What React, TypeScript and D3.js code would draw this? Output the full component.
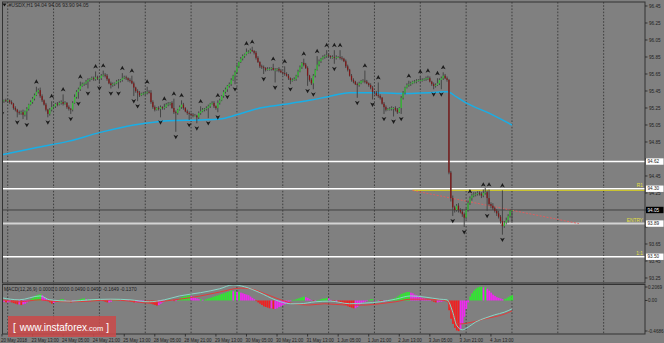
import React from "react";
import * as d3 from "d3";

// ---------- DATA ----------
const firstOpen = 95.32;
const closes = [
  95.33,95.34,95.33,95.34,95.32,95.30,95.25,95.23,95.20,95.19,
  95.20,95.17,95.21,95.24,95.29,95.32,95.36,95.40,95.44,95.46,
  95.39,95.34,95.29,95.23,95.18,95.23,95.26,95.27,95.30,95.29,
  95.31,95.32,95.30,95.31,95.26,95.24,95.23,95.31,95.38,95.44,
  95.47,95.51,95.53,95.54,95.56,95.58,95.59,95.60,95.59,95.61,
  95.60,95.60,95.63,95.64,95.63,95.59,95.54,95.52,95.53,95.54,
  95.56,95.57,95.58,95.60,95.61,95.60,95.58,95.57,95.54,95.49,
  95.45,95.43,95.40,95.42,95.42,95.43,95.44,95.43,95.32,95.26,
  95.23,95.25,95.24,95.26,95.25,95.26,95.29,95.30,95.31,95.25,
  95.20,95.19,95.23,95.26,95.29,95.25,95.21,95.19,95.18,95.17,
  95.16,95.16,95.14,95.19,95.21,95.23,95.24,95.25,95.27,95.30,
  95.31,95.27,95.25,95.31,95.34,95.39,95.44,95.47,95.51,95.53,
  95.58,95.63,95.67,95.74,95.79,95.83,95.86,95.88,95.91,95.91,
  95.93,95.92,95.90,95.84,95.79,95.74,95.73,95.72,95.70,95.71,
  95.71,95.72,95.70,95.70,95.71,95.69,95.67,95.66,95.65,95.63,
  95.60,95.58,95.58,95.59,95.63,95.68,95.73,95.78,95.76,95.72,
  95.63,95.58,95.54,95.63,95.70,95.76,95.80,95.83,95.85,95.86,
  95.87,95.86,95.85,95.85,95.84,95.85,95.85,95.84,95.83,95.80,
  95.74,95.70,95.63,95.58,95.56,95.53,95.52,95.54,95.57,95.57,
  95.56,95.54,95.52,95.49,95.44,95.43,95.40,95.39,95.37,95.30,
  95.26,95.23,95.24,95.24,95.25,95.25,95.23,95.20,95.25,95.37,
  95.43,95.49,95.52,95.53,95.54,95.56,95.56,95.57,95.58,95.58,
  95.58,95.59,95.60,95.60,95.56,95.53,95.51,95.52,95.54,95.58,
  95.60,95.63,95.60,95.58,94.49,94.19,94.08,94.05,94.10,94.05,
  94.03,94.00,93.96,94.05,94.13,94.19,94.22,94.23,94.24,94.25,
  94.24,94.22,94.25,94.26,94.19,94.12,94.10,94.07,94.04,94.01,
  93.97,93.92,93.86,93.90,93.93,93.98,94.04,94.05,
];
const upperWicks = [
  0.02,0.01,0.02,0.02,0.01,0.02,0.01,0.02,0.01,0.02,
  0.02,0.03,0.01,0.02,0.01,0.02,0.02,0.02,0.06,0.02,
  0.03,0.02,0.01,0.02,0.01,0.02,0.07,0.02,0.01,0.02,
  0.02,0.02,0.09,0.02,0.01,0.02,0.01,0.02,0.03,0.02,
  0.02,0.05,0.02,0.01,0.02,0.02,0.01,0.02,0.02,0.07,
  0.02,0.01,0.02,0.05,0.02,0.02,0.01,0.02,0.02,0.01,
  0.02,0.02,0.01,0.06,0.02,0.02,0.01,0.02,0.06,0.02,
  0.01,0.02,0.02,0.01,0.02,0.02,0.06,0.02,0.03,0.02,
  0.02,0.01,0.02,0.02,0.01,0.04,0.02,0.02,0.01,0.02,
  0.11,0.02,0.01,0.02,0.05,0.02,0.01,0.02,0.02,0.01,
  0.02,0.02,0.01,0.02,0.06,0.02,0.01,0.02,0.02,0.01,
  0.02,0.02,0.01,0.03,0.02,0.01,0.02,0.02,0.01,0.02,
  0.02,0.01,0.02,0.02,0.01,0.02,0.02,0.01,0.04,0.02,
  0.02,0.04,0.01,0.02,0.02,0.01,0.02,0.02,0.01,0.02,
  0.02,0.01,0.05,0.02,0.01,0.02,0.02,0.01,0.08,0.02,
  0.02,0.01,0.02,0.02,0.01,0.02,0.02,0.01,0.05,0.02,
  0.02,0.01,0.02,0.02,0.01,0.10,0.02,0.01,0.02,0.02,
  0.06,0.02,0.01,0.02,0.08,0.02,0.01,0.08,0.02,0.01,
  0.02,0.02,0.01,0.02,0.02,0.01,0.02,0.02,0.01,0.02,
  0.12,0.02,0.01,0.02,0.02,0.01,0.02,0.15,0.02,0.01,
  0.02,0.02,0.01,0.02,0.02,0.01,0.02,0.02,0.01,0.02,
  0.02,0.01,0.02,0.04,0.02,0.01,0.02,0.02,0.01,0.04,
  0.02,0.01,0.02,0.03,0.02,0.01,0.02,0.02,0.06,0.02,
  0.02,0.04,0.02,0.02,0.01,0.02,0.03,0.02,0.02,0.03,
  0.02,0.03,0.02,0.02,0.03,0.02,0.02,0.03,0.02,0.02,
  0.02,0.02,0.04,0.05,0.02,0.10,0.02,0.03,0.02,0.02,
  0.03,0.02,0.36,0.02,0.03,0.02,0.02,0.01,
];
const lowerWicks = [
  0.08,0.02,0.01,0.02,0.02,0.01,0.02,0.02,0.06,0.02,
  0.02,0.05,0.02,0.10,0.02,0.01,0.02,0.02,0.01,0.02,
  0.02,0.02,0.01,0.02,0.04,0.02,0.02,0.01,0.02,0.02,
  0.01,0.02,0.02,0.01,0.02,0.02,0.05,0.02,0.01,0.02,
  0.08,0.02,0.01,0.02,0.02,0.08,0.02,0.01,0.02,0.02,
  0.02,0.06,0.02,0.01,0.02,0.02,0.01,0.04,0.02,0.02,
  0.01,0.08,0.02,0.02,0.01,0.02,0.02,0.02,0.01,0.10,
  0.02,0.10,0.02,0.01,0.02,0.02,0.02,0.01,0.02,0.02,
  0.02,0.01,0.02,0.10,0.02,0.02,0.01,0.02,0.02,0.01,
  0.02,0.22,0.02,0.01,0.02,0.02,0.01,0.02,0.07,0.02,
  0.02,0.01,0.07,0.02,0.02,0.01,0.02,0.02,0.12,0.02,
  0.01,0.02,0.02,0.05,0.02,0.01,0.02,0.02,0.03,0.02,
  0.02,0.01,0.10,0.02,0.02,0.01,0.02,0.02,0.01,0.02,
  0.02,0.01,0.02,0.02,0.01,0.02,0.02,0.07,0.02,0.01,
  0.02,0.02,0.01,0.15,0.02,0.02,0.01,0.02,0.02,0.01,
  0.02,0.05,0.02,0.01,0.02,0.02,0.01,0.02,0.02,0.01,
  0.12,0.02,0.02,0.07,0.02,0.01,0.02,0.02,0.01,0.02,
  0.02,0.01,0.02,0.02,0.07,0.02,0.01,0.02,0.02,0.01,
  0.02,0.02,0.01,0.02,0.02,0.01,0.15,0.02,0.01,0.02,
  0.02,0.01,0.02,0.02,0.09,0.02,0.01,0.02,0.02,0.01,
  0.08,0.02,0.01,0.02,0.02,0.10,0.02,0.02,0.01,0.07,
  0.02,0.02,0.01,0.02,0.02,0.01,0.02,0.02,0.01,0.02,
  0.02,0.01,0.02,0.02,0.01,0.02,0.04,0.02,0.01,0.02,
  0.11,0.02,0.01,0.02,0.02,0.04,0.10,0.03,0.02,0.03,
  0.02,0.03,0.11,0.02,0.02,0.02,0.03,0.02,0.02,0.02,
  0.02,0.03,0.02,0.02,0.15,0.02,0.03,0.02,0.02,0.03,
  0.02,0.03,0.10,0.02,0.02,0.03,0.02,0.14,
];
const fractalUpBars = [18,26,32,41,49,53,63,68,76,85,90,94,104,113,128,131,142,148,158,165,170,174,177,190,197,213,219,223,228,231,245,252,255,262];
const fractalDownBars = [0,8,13,24,36,40,45,51,57,61,69,71,83,91,98,102,108,113,118,122,137,143,151,160,163,174,186,194,200,205,209,226,230,236,242,254,262];

const maBars = [0,17,35,51,69,75,87,104,114,123,135,147,161,170,182,196,207,224,233,238,243,255,267];
const maValues = [94.70,94.78,94.86,94.96,95.05,95.07,95.10,95.11,95.12,95.17,95.25,95.29,95.34,95.38,95.43,95.43,95.42,95.43,95.44,95.38,95.31,95.19,95.05];

const histogram = [
  -0.02,-0.02,-0.03,-0.03,-0.02,-0.03,-0.04,-0.05,-0.06,-0.06,
  -0.07,-0.06,-0.05,-0.03,-0.01,0.02,0.04,0.06,0.08,0.09,
  0.10,0.08,0.05,0.02,-0.01,-0.03,-0.05,-0.04,-0.02,0.00,
  0.01,0.02,0.02,0.01,-0.01,-0.02,-0.03,-0.02,-0.01,0.00,
  0.01,0.02,0.03,0.03,0.02,0.02,0.01,0.01,0.02,0.02,
  0.01,0.01,0.00,-0.01,-0.02,-0.03,-0.03,-0.02,0.00,0.01,
  0.02,0.02,0.01,0.01,0.02,0.01,0.00,-0.01,-0.02,-0.03,
  -0.03,-0.02,-0.02,-0.01,-0.01,-0.02,-0.03,-0.04,-0.05,-0.06,
  -0.07,-0.08,-0.07,-0.05,-0.03,-0.01,0.00,0.01,0.01,0.00,
  -0.01,-0.01,0.01,0.03,0.05,0.06,0.07,0.08,0.08,0.07,
  0.05,0.04,0.03,0.02,0.02,0.01,0.01,0.02,0.03,0.04,
  0.05,0.06,0.07,0.08,0.09,0.10,0.11,0.12,0.13,0.14,
  0.15,0.14,0.14,0.13,0.13,0.12,0.11,0.10,0.09,0.08,
  0.06,0.04,0.02,-0.01,-0.03,-0.05,-0.07,-0.09,-0.10,-0.11,
  -0.12,-0.12,-0.13,-0.13,-0.12,-0.10,-0.09,-0.07,-0.06,-0.04,
  -0.02,-0.01,0.01,0.01,0.02,0.03,0.04,0.05,0.06,0.05,
  0.04,0.02,0.00,-0.01,-0.01,0.00,0.01,0.02,0.03,0.03,
  0.04,0.03,0.01,-0.01,-0.02,-0.02,-0.03,-0.04,-0.05,-0.06,
  -0.07,-0.09,-0.10,-0.11,-0.12,-0.12,-0.10,-0.07,-0.05,-0.03,
  -0.02,-0.01,0.01,0.02,0.02,0.01,0.01,0.00,-0.01,-0.02,
  -0.02,-0.01,0.00,0.01,0.02,0.03,0.04,0.06,0.08,0.10,
  0.11,0.12,0.13,0.13,0.12,0.11,0.09,0.08,0.06,0.05,
  0.04,0.03,0.02,0.01,0.00,-0.01,-0.02,-0.03,-0.03,-0.02,
  -0.02,-0.01,0.00,0.01,-0.15,-0.28,-0.36,-0.42,-0.46,-0.47,
  -0.44,-0.36,-0.25,-0.13,-0.03,0.06,0.11,0.15,0.18,0.20,
  0.21,0.21,0.20,0.20,0.18,0.15,0.12,0.09,0.07,0.05,
  0.04,0.03,0.02,0.02,0.03,0.05,0.07,0.08,
];
const macdBars = [0,9,20,25,36,46,57,67,77,85,93,104,114,121,127,135,143,151,156,164,172,182,190,198,206,214,222,229,233,236,238,241,244,248,253,258,263,267];
const macdValues = [0.04,0.01,0.07,0.01,-0.01,0.01,0.02,0.01,-0.02,0.01,0.07,0.12,0.18,0.24,0.21,0.12,0.01,-0.05,-0.05,-0.02,-0.01,-0.05,-0.04,-0.02,0.02,0.07,0.05,0.02,0.01,-0.18,-0.38,-0.45,-0.41,-0.33,-0.27,-0.22,-0.18,-0.13];
const signalBars = [0,9,20,25,36,46,57,67,77,85,93,104,114,125,130,138,146,153,161,169,180,190,198,206,214,222,229,233,235,237,240,243,248,253,258,263,267];
const signalValues = [0.01,-0.02,0.01,-0.01,-0.02,-0.01,0.01,-0.01,-0.04,-0.01,0.02,0.07,0.13,0.19,0.18,0.10,0.01,-0.05,-0.07,-0.05,-0.07,-0.07,-0.05,-0.02,0.02,0.02,0.01,-0.01,-0.15,-0.30,-0.36,-0.35,-0.32,-0.28,-0.25,-0.21,-0.16];

const priceTicks = [96.45,96.25,96.05,95.85,95.65,95.45,95.25,95.05,94.85,94.65,94.45,94.25,94.05,93.85,93.65,93.45,93.25];
const macdTicks = [0.2069, 0.0, -0.4686];
const macdTickLabels = ["0.2069", "0.00", "-0.4686"];

const levelPrices = [94.62, 94.30, 93.89, 93.50];
const levelTags = ["", "R1", "ENTRY", "1:1"];
const currentPrice = 94.05;
const yellowLine = { bar: 215, price: 94.28 };
const trendLine = { bar1: 215, price1: 94.28, bar2: 302, price2: 93.89 };

const xLabelBars = [0,16,32,48,64,80,96,112,128,144,160,176,192,208,224,240,256];
const xLabels = ["20 May 2018","23 May 13:00","24 May 05:00","24 May 21:00","25 May 13:00","28 May 05:00","28 May 21:00","29 May 13:00","30 May 05:00","30 May 21:00","31 May 13:00","1 Jun 05:00","1 Jun 21:00","2 Jun 13:00","3 Jun 05:00","3 Jun 21:00","4 Jun 13:00"];
const gridBars = [3,27,51,75,99,123,147,171,195,219,243,267,291,315];

const titleText = "#USDX,H1  94.04 94.06 93.90 94.05";
const macdTitle = "MACD(12,26,9) 0.0000 0.0000 0.0490 0.0490 -0.1649 -0.1370";

// ---------- LAYOUT ----------
const W = 664, H = 343;
const MAIN = { l: 2.5, r: 645, t: 2, b: 283 };
const SUB = { t: 284.5, b: 334 };
const FONT = "'Liberation Sans', Arial, sans-serif";

export default function App() {
  const x = d3.scaleLinear().domain([0, 336]).range([2, 2 + 1.91 * 336]);
  const y = d3.scaleLinear().domain([93.191, 96.497]).range([MAIN.b, MAIN.t]);
  const ym = d3.scaleLinear().domain([-0.4686, 0.2069]).range([331, 287]);

  const opens = closes.map((c, i) => (i === 0 ? firstOpen : closes[i - 1]));
  const highs = closes.map((c, i) => Math.max(opens[i], c) + upperWicks[i]);
  const lows = closes.map((c, i) => Math.min(opens[i], c) - lowerWicks[i]);

  const maLine = d3.line<number>().x((b) => x(b)).y((_, k) => y(maValues[k])).curve(d3.curveMonotoneX);
  const macdLine = d3.line<number>().x((b) => x(b)).y((_, k) => ym(macdValues[k])).curve(d3.curveMonotoneX);
  const sigLine = d3.line<number>().x((b) => x(b)).y((_, k) => ym(signalValues[k])).curve(d3.curveMonotoneX);

  const bw = 1.3;
  const histColor = (i: number) => {
    const v = histogram[i];
    const p = i > 0 ? histogram[i - 1] : v;
    if (v >= 0 && v >= p) return "#2fe82f";
    if (v < 0 && v < p) return "#f02020";
    return "#f028f0";
  };

  const boxPrices = [...levelPrices, currentPrice];
  const visibleTicks = priceTicks.filter((p) => boxPrices.every((b) => Math.abs(y(p) - y(b)) > 3.6));

  const boxLabel = (price: number, txt: string, dark: boolean, key: string) => (
    <g key={key}>
      <rect x={646} y={y(price) - 3.2} width={17.5} height={6.4} fill={dark ? "#000" : "#fff"} />
      <text x={647.5} y={y(price) + 1.7} fontSize={4.6} fill={dark ? "#fff" : "#222"} fontFamily={FONT}>{txt}</text>
    </g>
  );

  return (
    <div style={{ position: "absolute", left: 0, top: 0, width: W, height: H, background: "#808080" }}>
      <svg width={W} height={H} style={{ display: "block" }}>
        <defs>
          <clipPath id="mainClip"><rect x={MAIN.l} y={MAIN.t} width={MAIN.r - MAIN.l} height={MAIN.b - MAIN.t} /></clipPath>
          <clipPath id="subClip"><rect x={MAIN.l} y={SUB.t} width={MAIN.r - MAIN.l} height={SUB.b - SUB.t} /></clipPath>
        </defs>
        <rect x={0} y={0} width={W} height={H} fill="#808080" />

        {/* vertical grid */}
        {gridBars.map((b) => (
          <line key={"g" + b} x1={x(b)} x2={x(b)} y1={MAIN.t} y2={SUB.b} stroke="#2e2e2e" strokeWidth={0.8} strokeDasharray="1.6,1.6" />
        ))}

        <g clipPath="url(#mainClip)">
          {/* horizontal levels */}
          {levelPrices.map((p, k) => (
            <line key={"lv" + k} x1={MAIN.l} x2={MAIN.r} y1={y(p)} y2={y(p)}
              stroke={k === 2 ? "#d4d4d4" : "#ffffff"} strokeWidth={k === 2 ? 2 : 1.5} />
          ))}
          <line x1={x(yellowLine.bar)} x2={MAIN.r} y1={y(yellowLine.price)} y2={y(yellowLine.price)} stroke="#c9c230" strokeWidth={1.2} />
          <line x1={MAIN.l} x2={MAIN.r} y1={y(currentPrice)} y2={y(currentPrice)} stroke="#3a3a3a" strokeWidth={0.9} />
          <line x1={x(trendLine.bar1)} x2={x(trendLine.bar2)} y1={y(trendLine.price1)} y2={y(trendLine.price2)} stroke="#e85a5a" strokeWidth={0.9} strokeDasharray="2,1.5" />

          {/* moving average */}
          <path d={maLine(maBars) || ""} fill="none" stroke="#19aee6" strokeWidth={1.5} />

          {/* candles */}
          {closes.map((c, i) => {
            const o = opens[i];
            const cx = x(i);
            const up = c >= o;
            const top = y(Math.max(o, c));
            const h = Math.max(0.8, Math.abs(y(o) - y(c)));
            return (
              <g key={"c" + i}>
                <line x1={cx} x2={cx} y1={y(highs[i])} y2={y(lows[i])} stroke="#3e3e3e" strokeWidth={0.9} />
                <rect x={cx - bw / 2} y={top} width={bw} height={h} fill={up ? "#36bf36" : "#7e1818"} />
              </g>
            );
          })}

          {/* fractals */}
          {fractalUpBars.map((b) => {
            const cx = x(b), cy = y(highs[b]) - 5;
            return <path key={"fu" + b} d={`M${cx},${cy - 2.4} L${cx + 2.4},${cy + 2} L${cx},${cy + 0.9} L${cx - 2.4},${cy + 2} Z`} fill="#1c1c1c" />;
          })}
          {fractalDownBars.map((b) => {
            const cx = x(b), cy = y(lows[b]) + 5;
            return <path key={"fd" + b} d={`M${cx},${cy + 2.4} L${cx + 2.4},${cy - 2} L${cx},${cy - 0.9} L${cx - 2.4},${cy - 2} Z`} fill="#1c1c1c" />;
          })}

          {/* level tags */}
          {levelPrices.map((p, k) => levelTags[k] ? (
            <text key={"tg" + k} x={643} y={y(p) - 1.8} textAnchor="end" fontSize={4.8} fill="#e6e040" fontFamily={FONT}>{levelTags[k]}</text>
          ) : null)}
        </g>

        {/* MACD panel */}
        <g clipPath="url(#subClip)">
          {histogram.map((v, i) => (
            <rect key={"h" + i} x={x(i) - bw / 2} y={Math.min(ym(0), ym(v))} width={bw + 0.4}
              height={Math.max(0.5, Math.abs(ym(v) - ym(0)))} fill={histColor(i)} />
          ))}
          <path d={sigLine(signalBars) || ""} fill="none" stroke="#e23a3a" strokeWidth={1} />
          <path d={macdLine(macdBars) || ""} fill="none" stroke="#86d6c6" strokeWidth={1} />
        </g>

        {/* panel borders */}
        <rect x={MAIN.l} y={MAIN.t} width={MAIN.r - MAIN.l} height={MAIN.b - MAIN.t} fill="none" stroke="#333" strokeWidth={1} />
        <rect x={MAIN.l} y={SUB.t} width={MAIN.r - MAIN.l} height={SUB.b - SUB.t} fill="none" stroke="#333" strokeWidth={1} />

        {/* price axis */}
        {priceTicks.map((p) => (
          <line key={"ptl" + p} x1={MAIN.r} x2={MAIN.r + 2.5} y1={y(p)} y2={y(p)} stroke="#222" strokeWidth={0.8} />
        ))}
        {visibleTicks.map((p) => (
          <text key={"pt" + p} x={649} y={y(p) + 1.7} fontSize={4.6} fill="#1e1e1e" fontFamily={FONT}>{p.toFixed(2)}</text>
        ))}
        {levelPrices.map((p, k) => boxLabel(p, p.toFixed(2), false, "lb" + k))}
        {boxLabel(currentPrice, currentPrice.toFixed(2), true, "cur")}

        {/* macd axis */}
        {macdTicks.map((v, k) => (
          <g key={"mt" + k}>
            <line x1={MAIN.r} x2={MAIN.r + 2.5} y1={ym(v)} y2={ym(v)} stroke="#222" strokeWidth={0.8} />
            <text x={648} y={ym(v) + 1.7} fontSize={4.6} fill="#1e1e1e" fontFamily={FONT}>{macdTickLabels[k]}</text>
          </g>
        ))}

        {/* x axis labels */}
        {xLabelBars.map((b, k) => (
          <g key={"xl" + b}>
            <line x1={x(b)} x2={x(b)} y1={SUB.b} y2={SUB.b + 2.5} stroke="#222" strokeWidth={0.8} />
            <text x={x(b) - 1} y={341.5} fontSize={4.5} fill="#1e1e1e" fontFamily={FONT}>{xLabels[k]}</text>
          </g>
        ))}

        {/* titles */}
        <path d="M2.5,3.5 L6.5,3.5 L4.5,6.5 Z" fill="#111" />
        <text x={8.5} y={7} fontSize={5} fill="#1e1e1e" fontFamily={FONT}>{titleText}</text>
        <text x={4} y={290.5} fontSize={4.8} fill="#1e1e1e" fontFamily={FONT}>{macdTitle}</text>

        {/* watermark */}
        <rect x={8} y={316} width={108} height={21} fill="#c84a4a" opacity={0.88} />
        <text x={13} y={330.5} fontSize={10} fill="#fff" fontFamily={FONT}>
          <tspan>[</tspan>
          <tspan dx={4}>www.instaforex</tspan>
          <tspan fontSize={7.5}>.com</tspan>
          <tspan dx={3}>]</tspan>
        </text>
      </svg>
    </div>
  );
}
